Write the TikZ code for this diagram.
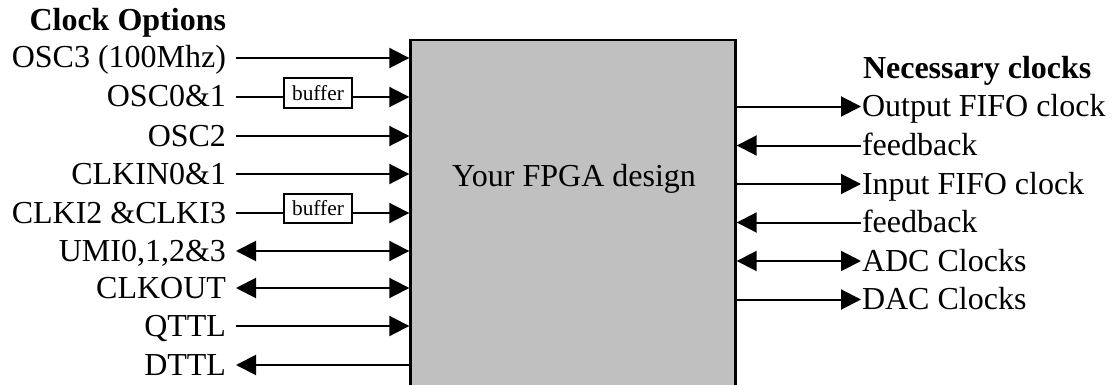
\documentclass[tikz,border=0pt]{standalone}
\usepackage{fontspec}
\setmainfont{Liberation Serif}
\usetikzlibrary{arrows.meta}
\definecolor{boxgray}{RGB}{192,192,192}

\begin{document}
\begin{tikzpicture}[x=.75pt, y=-.75pt, line width=1.5pt, >={Triangle[length=15pt,width=15pt]}]
    \useasboundingbox (0,0) rectangle (1117,385);
    \tikzset{lbl/.style={font=\fontsize{24}{28}\selectfont, text height=15pt, text depth=0pt, inner sep=0pt}}
    \tikzset{inlbl/.style={lbl, anchor=east, inner xsep=6.75pt}, outlbl/.style={lbl, anchor=west}}
    \tikzset{title/.style={font=\fontsize{24}{28}\selectfont\bfseries, inner sep=0pt}}
    \tikzset{bufbox/.style={draw, fill=white, minimum width=51pt, minimum height=21.75pt, inner sep=0pt, font=\fontsize{16}{18}\selectfont}}
    \draw (573,215) node[draw, fill=boxgray, minimum width=243.75pt, minimum height=262.5pt, line width=1.8pt] (fpga) {};
    \draw (574,176) node[lbl] (design) {Your FPGA design};
    \draw (227,31) node[title, anchor=base east] (clkopt) {Clock Options}; %title
    \draw (862,79) node[title, anchor=base west] (needclk) {Necessary clocks}; %title
    \draw (236,58) node[inlbl] (osc3) {OSC3 (100Mhz)};
    \draw (236,97) node[inlbl] (osc01) {OSC0\&1};
    \draw (236,136) node[inlbl] (osc2) {OSC2};
    \draw (236,174) node[inlbl] (clkin) {CLKIN0\&1};
    \draw (236,213) node[inlbl] (clki23) {CLKI2 \&CLKI3};
    \draw (236,251) node[inlbl] (umi) {UMI0,1,2\&3};
    \draw (236,288) node[inlbl] (clkout) {CLKOUT};
    \draw (236,326) node[inlbl] (qttl) {QTTL};
    \draw (236,365) node[inlbl] (dttl) {DTTL};
    \draw (318,93) node[bufbox] (buf1) {buffer};
    \draw (318,208) node[bufbox] (buf2) {buffer};
    \draw[->] (osc3.east) -- (osc3.east -| fpga.west);
    \draw (osc01.east) -- (osc01.east -| buf1.west);
    \draw[->] (osc01.east -| buf1.east) -- (osc01.east -| fpga.west);
    \draw[->] (osc2.east) -- (osc2.east -| fpga.west);
    \draw[->] (clkin.east) -- (clkin.east -| fpga.west);
    \draw (clki23.east) -- (clki23.east -| buf2.west);
    \draw[->] (clki23.east -| buf2.east) -- (clki23.east -| fpga.west);
    \draw[<->] (umi.east) -- (umi.east -| fpga.west);
    \draw[<->] (clkout.east) -- (clkout.east -| fpga.west);
    \draw[->] (qttl.east) -- (qttl.east -| fpga.west);
    \draw[<-] (dttl.east) -- (dttl.east -| fpga.west);
    \draw (861,106.5) node[outlbl] (outfifo) {Output FIFO clock};
    \draw (861,145.5) node[outlbl] (fb1) {feedback};
    \draw (861,184) node[outlbl] (infifo) {Input FIFO clock};
    \draw (861,222.5) node[outlbl] (fb2) {feedback};
    \draw (861,261) node[outlbl] (adc) {ADC Clocks};
    \draw (861,299.5) node[outlbl] (dac) {DAC Clocks};
    \draw[->] (outfifo.west -| fpga.east) -- (outfifo.west);
    \draw[<-] (fb1.west -| fpga.east) -- (fb1.west);
    \draw[->] (infifo.west -| fpga.east) -- (infifo.west);
    \draw[<-] (fb2.west -| fpga.east) -- (fb2.west);
    \draw[<->] (adc.west -| fpga.east) -- (adc.west);
    \draw[->] (dac.west -| fpga.east) -- (dac.west);
\end{tikzpicture}
\end{document}
